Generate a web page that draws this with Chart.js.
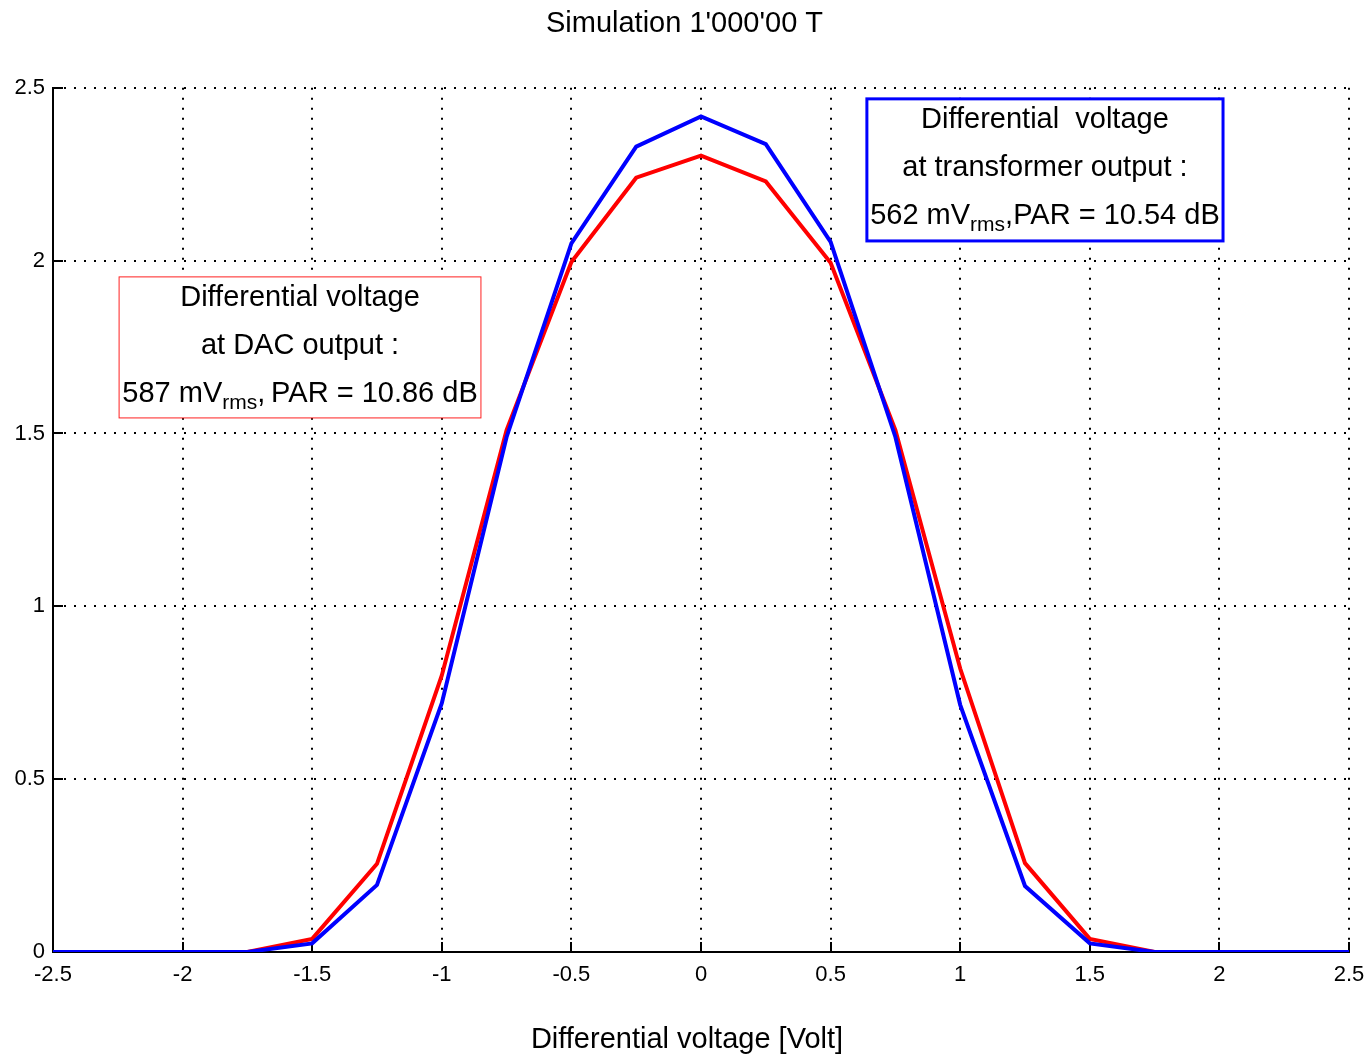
<!DOCTYPE html>
<html>
<head>
<meta charset="utf-8">
<script src="https://cdn.jsdelivr.net/npm/chart.js@4.4.0/dist/chart.umd.min.js"></script>
<style>
  body { margin: 0; background: #fff; }
  #wrap { width: 1369px; height: 1057px; }
</style>
</head>
<body>
<div id="wrap"><canvas id="diffChart"></canvas></div>
<script>
// Data
const xValues = [-2.5, -2.25, -2, -1.75, -1.5, -1.25, -1, -0.75, -0.5, -0.25, 0,
                 0.25, 0.5, 0.75, 1, 1.25, 1.5, 1.75, 2, 2.25, 2.5];
const dacOutput = [0, 0, 0, 0, 0.038, 0.255, 0.80, 1.51, 1.996, 2.24, 2.304,
                   2.229, 1.994, 1.51, 0.82, 0.257, 0.038, 0, 0, 0, 0];
const transformerOutput = [0, 0, 0, 0, 0.025, 0.194, 0.72, 1.49, 2.05, 2.33, 2.417,
                           2.337, 2.054, 1.49, 0.715, 0.191, 0.025, 0, 0, 0, 0];
const xTicks = [-2.5, -2, -1.5, -1, -0.5, 0, 0.5, 1, 1.5, 2, 2.5];
const yTicks = [0, 0.5, 1, 1.5, 2, 2.5];

const chartTitle = "Simulation 1'000'00 T";
const xTitle = 'Differential voltage [Volt]';

const dacNote = [
    [{ t: 'Differential voltage' }],
    [{ t: 'at DAC output :' }],
    [{ t: '587 mV' }, { t: 'rms', sub: true }, { t: ',\u2009PAR = 10.86 dB' }]
];
const transformerNote = [
    [{ t: 'Differential  voltage' }],
    [{ t: 'at transformer output :' }],
    [{ t: '562 mV' }, { t: 'rms', sub: true }, { t: ',PAR = 10.54 dB' }]
];

const FONT = "'Liberation Sans', Arial, sans-serif";

function toPoints(ys) {
    return xValues.map((x, i) => ({ x: x, y: ys[i] }));
}

// inward major ticks on left / bottom axes
const axisTicks = {
    id: 'axisTicks',
    beforeDatasetsDraw(chart) {
        const ctx = chart.ctx;
        const xs = chart.scales.x;
        const ys = chart.scales.y;
        const area = chart.chartArea;
        ctx.save();
        ctx.strokeStyle = '#000';
        ctx.lineWidth = 2;
        ctx.beginPath();
        xTicks.forEach(v => {
            const px = Math.round(xs.getPixelForValue(v));
            ctx.moveTo(px, area.bottom);
            ctx.lineTo(px, area.bottom - 10);
        });
        yTicks.forEach(v => {
            const py = Math.round(ys.getPixelForValue(v));
            ctx.moveTo(area.left, py);
            ctx.lineTo(area.left + 10, py);
        });
        ctx.stroke();
        ctx.restore();
    }
};

function drawNote(chart, lines, box, color, lineWidth) {
    const ctx = chart.ctx;
    const xs = chart.scales.x;
    const ys = chart.scales.y;
    const x0 = xs.getPixelForValue(box.x0);
    const x1 = xs.getPixelForValue(box.x1);
    const y0 = ys.getPixelForValue(box.y1);
    const y1 = ys.getPixelForValue(box.y0);
    ctx.save();
    ctx.fillStyle = '#fff';
    ctx.fillRect(x0, y0, x1 - x0, y1 - y0);
    ctx.strokeStyle = color;
    ctx.lineWidth = lineWidth;
    ctx.strokeRect(x0, y0, x1 - x0, y1 - y0);

    ctx.fillStyle = '#000';
    ctx.textBaseline = 'alphabetic';
    ctx.textAlign = 'left';
    const cx = (x0 + x1) / 2;
    lines.forEach((runs, i) => {
        const base = y0 + 29 + i * 48;
        let w = 0;
        runs.forEach(r => {
            ctx.font = (r.sub ? 21 : 29) + 'px ' + FONT;
            w += ctx.measureText(r.t).width;
        });
        let x = cx - w / 2;
        runs.forEach(r => {
            ctx.font = (r.sub ? 21 : 29) + 'px ' + FONT;
            ctx.fillText(r.t, x, base + (r.sub ? 7 : 0));
            x += ctx.measureText(r.t).width;
        });
    });
    ctx.restore();
}

const notes = {
    id: 'notes',
    beforeDatasetsDraw(chart) {
        drawNote(chart, dacNote, { x0: -2.245, x1: -0.849, y0: 1.545, y1: 1.953 }, '#ff2020', 1);
        drawNote(chart, transformerNote, { x0: 0.640, x1: 2.014, y0: 2.057, y1: 2.468 }, '#0000ff', 3);
    }
};

// x axis title, centred on the page like the original
const xAxisTitle = {
    id: 'xAxisTitle',
    afterDraw(chart) {
        const ctx = chart.ctx;
        ctx.save();
        ctx.fillStyle = '#000';
        ctx.font = '29px ' + FONT;
        ctx.textAlign = 'center';
        ctx.textBaseline = 'middle';
        ctx.fillText(xTitle, 687, 1040);
        ctx.restore();
    }
};

const gridStyle = {
    color: '#000',
    lineWidth: 2,
    drawTicks: false
};
const borderStyle = {
    display: true,
    color: '#000',
    width: 2,
    dash: [2, 8]
};

new Chart(document.getElementById('diffChart').getContext('2d'), {
    type: 'line',
    data: {
        datasets: [{
            label: 'Transformer output',
            data: toPoints(transformerOutput),
            borderColor: '#0000ff',
            borderWidth: 4,
            pointRadius: 0,
            tension: 0,
            fill: false
        }, {
            label: 'DAC output',
            data: toPoints(dacOutput),
            borderColor: '#ff0000',
            borderWidth: 4,
            pointRadius: 0,
            tension: 0,
            fill: false
        }]
    },
    options: {
        responsive: true,
        maintainAspectRatio: false,
        animation: false,
        layout: {
            padding: 0
        },
        plugins: {
            legend: { display: false },
            tooltip: { enabled: false },
            title: {
                display: true,
                text: chartTitle,
                color: '#000',
                font: { family: FONT, size: 29, weight: 'normal' },
                padding: { top: 7, bottom: 46 }
            }
        },
        scales: {
            x: {
                type: 'linear',
                min: -2.5,
                max: 2.5,
                afterBuildTicks: axis => { axis.ticks = xTicks.map(v => ({ value: v })); },
                afterFit: axis => {
                    axis.height = 105;
                    axis.paddingLeft = 0;
                    axis.paddingRight = 20;
                },
                grid: gridStyle,
                border: borderStyle,
                ticks: {
                    color: '#000',
                    padding: 10,
                    maxRotation: 0,
                    font: { family: FONT, size: 22 },
                    callback: v => String(v)
                }
            },
            y: {
                min: 0,
                max: 2.5,
                afterBuildTicks: axis => { axis.ticks = yTicks.map(v => ({ value: v })); },
                afterFit: axis => { axis.width = 53; },
                grid: gridStyle,
                border: borderStyle,
                ticks: {
                    color: '#000',
                    padding: 8,
                    font: { family: FONT, size: 22 },
                    callback: v => String(v)
                }
            }
        }
    },
    plugins: [axisTicks, notes, xAxisTitle]
});
</script>
</body>
</html>
